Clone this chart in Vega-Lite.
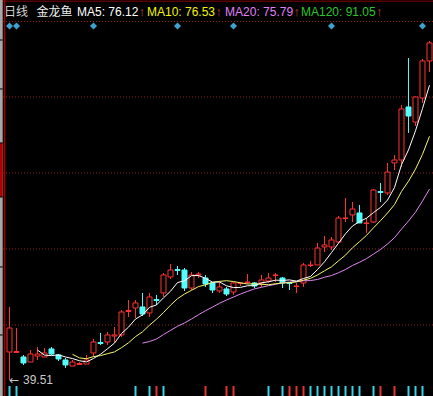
{
  "$schema": "https://vega.github.io/schema/vega-lite/v6.json",
  "width": 433,
  "height": 396,
  "autosize": {"type": "none"},
  "padding": 0,
  "background": "#000000",
  "config": {"view": {"stroke": null}},
  "datasets": {
    "k": [
      {"i":0,"o":43.01,"h":48.64,"l":39.51,"c":46.01},
      {"i":1,"o":42.95,"h":46.01,"l":42.89,"c":43.07},
      {"i":2,"o":42.39,"h":42.64,"l":41.39,"c":41.64},
      {"i":3,"o":41.76,"h":43.26,"l":41.76,"c":42.76},
      {"i":4,"o":42.51,"h":43.64,"l":42.01,"c":42.76,"m5":43.25},
      {"i":5,"o":42.39,"h":43.51,"l":42.39,"c":42.89,"m5":42.62},
      {"i":6,"o":43.39,"h":43.64,"l":42.64,"c":42.76,"m5":42.56},
      {"i":7,"o":42.64,"h":42.76,"l":41.89,"c":42.14,"m5":42.66},
      {"i":8,"o":42.01,"h":42.26,"l":41.01,"c":41.39,"m5":42.39},
      {"i":9,"o":41.26,"h":42.01,"l":41.26,"c":41.76,"m5":42.19,"m10":42.72},
      {"i":10,"o":41.45,"h":41.76,"l":41.39,"c":41.57,"m5":41.92,"m10":42.27},
      {"i":11,"o":41.51,"h":42.64,"l":41.51,"c":42.01,"m5":41.77,"m10":42.17},
      {"i":12,"o":42.89,"h":44.64,"l":42.39,"c":44.26,"m5":42.20,"m10":42.43},
      {"i":13,"o":44.20,"h":45.39,"l":43.89,"c":44.07,"m5":42.73,"m10":42.56},
      {"i":14,"o":44.26,"h":45.51,"l":43.89,"c":45.14,"m5":43.41,"m10":42.80},
      {"i":15,"o":45.01,"h":46.14,"l":44.14,"c":45.14,"m5":44.12,"m10":43.02},
      {"i":16,"o":45.14,"h":48.26,"l":44.89,"c":48.01,"m5":45.32,"m10":43.55},
      {"i":17,"o":48.07,"h":49.51,"l":47.39,"c":48.20,"m5":46.11,"m10":44.16},
      {"i":18,"o":48.51,"h":49.51,"l":47.26,"c":49.14,"m5":47.13,"m10":44.93},
      {"i":19,"o":48.64,"h":50.39,"l":47.51,"c":47.76,"m5":47.65,"m10":45.53,"m20":44.12},
      {"i":20,"o":47.89,"h":50.39,"l":47.39,"c":49.89,"m5":48.60,"m10":46.36,"m20":44.32},
      {"i":21,"o":49.57,"h":50.14,"l":48.89,"c":49.45,"m5":48.89,"m10":47.11,"m20":44.64},
      {"i":22,"o":50.39,"h":52.89,"l":49.89,"c":52.64,"m5":49.78,"m10":47.94,"m20":45.19},
      {"i":23,"o":52.39,"h":54.01,"l":52.14,"c":53.26,"m5":50.60,"m10":48.86,"m20":45.71},
      {"i":24,"o":53.32,"h":53.76,"l":52.64,"c":53.20,"m5":51.69,"m10":49.67,"m20":46.23},
      {"i":25,"o":53.26,"h":53.51,"l":50.64,"c":51.01,"m5":51.91,"m10":50.26,"m20":46.64},
      {"i":26,"o":51.01,"h":53.01,"l":50.76,"c":52.64,"m5":52.55,"m10":50.72,"m20":47.13},
      {"i":27,"o":52.64,"h":53.01,"l":52.26,"c":52.76,"m5":52.57,"m10":51.18,"m20":47.67},
      {"i":28,"o":52.26,"h":52.64,"l":51.14,"c":51.51,"m5":52.22,"m10":51.41,"m20":48.17},
      {"i":29,"o":51.64,"h":51.76,"l":50.39,"c":50.76,"m5":51.74,"m10":51.71,"m20":48.62},
      {"i":30,"o":50.64,"h":51.76,"l":50.39,"c":51.14,"m5":51.76,"m10":51.84,"m20":49.10},
      {"i":31,"o":50.89,"h":51.14,"l":50.01,"c":50.26,"m5":51.29,"m10":51.92,"m20":49.51},
      {"i":32,"o":50.51,"h":51.76,"l":50.14,"c":51.64,"m5":51.06,"m10":51.82,"m20":49.88},
      {"i":33,"o":51.57,"h":51.76,"l":51.26,"c":51.64,"m5":51.09,"m10":51.66,"m20":50.26},
      {"i":34,"o":51.70,"h":52.76,"l":51.51,"c":51.76,"m5":51.29,"m10":51.51,"m20":50.59},
      {"i":35,"o":51.64,"h":51.76,"l":51.01,"c":51.26,"m5":51.31,"m10":51.54,"m20":50.90},
      {"i":36,"o":51.64,"h":52.64,"l":51.14,"c":52.01,"m5":51.66,"m10":51.47,"m20":51.10},
      {"i":37,"o":51.89,"h":52.89,"l":51.64,"c":52.26,"m5":51.79,"m10":51.42,"m20":51.30},
      {"i":38,"o":52.57,"h":52.89,"l":51.76,"c":52.64,"m5":51.99,"m10":51.54,"m20":51.47},
      {"i":39,"o":52.26,"h":52.39,"l":51.01,"c":51.64,"m5":51.96,"m10":51.63,"m20":51.67},
      {"i":40,"o":51.70,"h":51.76,"l":50.76,"c":51.57,"m5":52.02,"m10":51.67,"m20":51.75},
      {"i":41,"o":51.20,"h":51.64,"l":50.39,"c":51.26,"m5":51.87,"m10":51.77,"m20":51.84},
      {"i":42,"o":51.64,"h":54.14,"l":51.14,"c":53.89,"m5":52.20,"m10":51.99,"m20":51.91},
      {"i":43,"o":53.82,"h":54.39,"l":53.64,"c":53.89,"m5":52.45,"m10":52.22,"m20":51.94},
      {"i":44,"o":53.89,"h":56.64,"l":53.89,"c":56.01,"m5":53.32,"m10":52.64,"m20":52.08},
      {"i":45,"o":56.14,"h":57.51,"l":55.51,"c":56.39,"m5":54.29,"m10":53.16,"m20":52.35},
      {"i":46,"o":56.14,"h":57.39,"l":55.76,"c":57.01,"m5":55.44,"m10":53.66,"m20":52.57},
      {"i":47,"o":56.76,"h":60.01,"l":56.64,"c":59.76,"m5":56.61,"m10":54.41,"m20":52.92},
      {"i":48,"o":59.70,"h":62.26,"l":59.26,"c":59.76,"m5":57.79,"m10":55.12,"m20":53.33},
      {"i":49,"o":60.14,"h":61.76,"l":59.26,"c":60.89,"m5":58.76,"m10":56.04,"m20":53.83},
      {"i":50,"o":60.39,"h":61.39,"l":59.14,"c":59.14,"m5":59.31,"m10":56.80,"m20":54.23},
      {"i":51,"o":59.07,"h":59.76,"l":57.89,"c":59.14,"m5":59.74,"m10":57.59,"m20":54.68},
      {"i":52,"o":59.26,"h":63.39,"l":59.14,"c":63.26,"m5":60.44,"m10":58.53,"m20":55.26},
      {"i":53,"o":63.07,"h":64.14,"l":61.76,"c":62.95,"m5":61.08,"m10":59.43,"m20":55.82},
      {"i":54,"o":62.89,"h":66.64,"l":62.64,"c":65.51,"m5":62.00,"m10":60.38,"m20":56.51},
      {"i":55,"o":66.64,"h":67.64,"l":65.76,"c":67.01,"m5":63.57,"m10":61.44,"m20":57.30},
      {"i":56,"o":67.01,"h":73.89,"l":66.14,"c":73.39,"m5":66.42,"m10":63.08,"m20":58.37},
      {"i":57,"o":73.64,"h":79.76,"l":70.39,"c":72.51,"m5":68.27,"m10":64.36,"m20":59.38},
      {"i":58,"o":71.76,"h":74.95,"l":71.26,"c":74.89,"m5":70.66,"m10":65.87,"m20":60.49},
      {"i":59,"o":74.76,"h":79.64,"l":74.14,"c":79.39,"m5":73.44,"m10":67.72,"m20":61.88},
      {"i":60,"o":79.39,"h":81.89,"l":78.01,"c":81.64,"m5":76.36,"m10":69.97,"m20":63.38}
    ],
    "sig": [
      {"i":0,"d":"d"},{"i":1,"d":"d"},{"i":18,"d":"d"},{"i":20,"d":"d"},
      {"i":21,"d":"u"},{"i":22,"d":"d"},{"i":28,"d":"u"},{"i":31,"d":"u"},
      {"i":32,"d":"u"},{"i":37,"d":"d"},{"i":39,"d":"d"},{"i":40,"d":"u"},
      {"i":41,"d":"u"},{"i":42,"d":"u"},{"i":43,"d":"d"},{"i":44,"d":"d"},
      {"i":45,"d":"d"},{"i":46,"d":"d"},{"i":47,"d":"d"},{"i":48,"d":"d"},
      {"i":49,"d":"d"},{"i":50,"d":"d"},{"i":52,"d":"d"},{"i":53,"d":"u"},
      {"i":55,"d":"u"},{"i":57,"d":"d"},{"i":58,"d":"d"},{"i":59,"d":"d"}
    ],
    "dia": [{"i":0},{"i":1},{"i":12},{"i":24},{"i":32},{"i":46},{"i":59}],
    "grid": [{"p":84.32},{"p":74.89},{"p":65.39},{"p":55.89},{"p":46.39}],
    "ticks": [{"p":82.01},{"p":75.89},{"p":69.14},{"p":62.39},{"p":53.64},{"p":45.14}],
    "one": [{"n": 1}],
    "labels": [
      {"t": "日线", "a": -0.786, "k": "name"},
      {"t": "金龙鱼", "a": 3.857, "k": "stock"},
      {"t": "MA5: 76.12", "a": 9.64, "k": "ma5"},
      {"t": "MA10: 76.53", "a": 19.64, "k": "ma10"},
      {"t": "MA20: 75.79", "a": 30.79, "k": "ma20"},
      {"t": "MA120: 91.05", "a": 41.64, "k": "ma120"}
    ],
    "arrows": [{"a": 18.47}, {"a": 29.42}, {"a": 40.56}, {"a": 52.37}]
  },
  "layer": [
    {
      "data": {"name": "grid"},
      "mark": {"type": "rule", "color": "#8c1e1e", "strokeDash": [1, 2], "strokeWidth": 1},
      "encoding": {
        "y": {"field": "p", "type": "quantitative", "scale": {"domain": [37.51, 87.01], "nice": false, "zero": false}, "axis": null}
      }
    },
    {
      "data": {"name": "one"},
      "mark": {"type": "rule", "color": "#5a0000", "strokeWidth": 1.5},
      "encoding": {
        "y": {"datum": 86.85, "type": "quantitative", "scale": {"domain": [37.51, 87.01], "nice": false, "zero": false}, "axis": null}
      }
    },
    {
      "data": {"name": "one"},
      "mark": {"type": "rect", "color": "#a8a8a8"},
      "encoding": {
        "x": {"datum": -1.357, "type": "quantitative", "scale": {"domain": [-1.357, 60.5], "nice": false, "zero": false, "padding": 0}, "axis": null},
        "x2": {"datum": -0.97},
        "y": {"datum": 37.51, "type": "quantitative", "scale": {"domain": [37.51, 87.01], "nice": false, "zero": false}, "axis": null},
        "y2": {"datum": 87.01}
      }
    },
    {
      "data": {"name": "one"},
      "mark": {"type": "rect", "color": "#b00000"},
      "encoding": {
        "x": {"datum": -1.357, "type": "quantitative", "scale": {"domain": [-1.357, 60.5], "nice": false, "zero": false, "padding": 0}, "axis": null},
        "x2": {"datum": -0.97},
        "y": {"datum": 62.39, "type": "quantitative", "scale": {"domain": [37.51, 87.01], "nice": false, "zero": false}, "axis": null},
        "y2": {"datum": 69.14}
      }
    },
    {
      "data": {"name": "ticks"},
      "mark": {"type": "rule", "color": "#000000", "strokeWidth": 1},
      "encoding": {
        "x": {"datum": -1.357, "type": "quantitative", "scale": {"domain": [-1.357, 60.5], "nice": false, "zero": false, "padding": 0}, "axis": null},
        "x2": {"datum": -0.97},
        "y": {"field": "p", "type": "quantitative", "scale": {"domain": [37.51, 87.01], "nice": false, "zero": false}, "axis": null}
      }
    },
    {
      "data": {"name": "one"},
      "mark": {"type": "rule", "color": "#a00000", "strokeWidth": 1.5},
      "encoding": {
        "x": {"datum": -0.714, "type": "quantitative", "scale": {"domain": [-1.357, 60.5], "nice": false, "zero": false, "padding": 0}, "axis": null}
      }
    },
    {
      "data": {"name": "k"},
      "mark": {"type": "rule", "strokeWidth": 1},
      "encoding": {
        "x": {"field": "i", "type": "quantitative", "scale": {"domain": [-1.357, 60.5], "nice": false, "zero": false, "padding": 0}, "axis": null},
        "y": {"field": "l", "type": "quantitative", "scale": {"domain": [37.51, 87.01], "nice": false, "zero": false}, "axis": null},
        "y2": {"field": "h"},
        "stroke": {"condition": {"test": "datum.c >= datum.o", "value": "#ff3232"}, "value": "#54fcfc"}
      }
    },
    {
      "data": {"name": "k"},
      "mark": {"type": "bar", "width": 5, "strokeWidth": 1},
      "encoding": {
        "x": {"field": "i", "type": "quantitative", "scale": {"domain": [-1.357, 60.5], "nice": false, "zero": false, "padding": 0}, "axis": null},
        "y": {"field": "o", "type": "quantitative", "scale": {"domain": [37.51, 87.01], "nice": false, "zero": false}, "axis": null},
        "y2": {"field": "c"},
        "fill": {"condition": {"test": "datum.c >= datum.o", "value": "#000000"}, "value": "#54fcfc"},
        "stroke": {"condition": {"test": "datum.c >= datum.o", "value": "#ff3232"}, "value": "#54fcfc"}
      }
    },
    {
      "data": {"name": "k"},
      "mark": {"type": "line", "color": "#e088f0", "strokeWidth": 1},
      "encoding": {
        "x": {"field": "i", "type": "quantitative", "scale": {"domain": [-1.357, 60.5], "nice": false, "zero": false, "padding": 0}, "axis": null},
        "y": {"field": "m20", "type": "quantitative", "scale": {"domain": [37.51, 87.01], "nice": false, "zero": false}, "axis": null}
      }
    },
    {
      "data": {"name": "k"},
      "mark": {"type": "line", "color": "#f6f66e", "strokeWidth": 1},
      "encoding": {
        "x": {"field": "i", "type": "quantitative", "scale": {"domain": [-1.357, 60.5], "nice": false, "zero": false, "padding": 0}, "axis": null},
        "y": {"field": "m10", "type": "quantitative", "scale": {"domain": [37.51, 87.01], "nice": false, "zero": false}, "axis": null}
      }
    },
    {
      "data": {"name": "k"},
      "mark": {"type": "line", "color": "#ffffff", "strokeWidth": 1},
      "encoding": {
        "x": {"field": "i", "type": "quantitative", "scale": {"domain": [-1.357, 60.5], "nice": false, "zero": false, "padding": 0}, "axis": null},
        "y": {"field": "m5", "type": "quantitative", "scale": {"domain": [37.51, 87.01], "nice": false, "zero": false}, "axis": null}
      }
    },
    {
      "data": {"name": "dia"},
      "mark": {"type": "point", "shape": "diamond", "filled": true, "color": "#3ca2d0", "size": 50, "opacity": 1},
      "encoding": {
        "x": {"field": "i", "type": "quantitative", "scale": {"domain": [-1.357, 60.5], "nice": false, "zero": false, "padding": 0}, "axis": null},
        "y": {"datum": 83.76, "type": "quantitative", "scale": {"domain": [37.51, 87.01], "nice": false, "zero": false}, "axis": null}
      }
    },
    {
      "data": {"name": "sig"},
      "mark": {"type": "rule", "strokeWidth": 2},
      "encoding": {
        "x": {"field": "i", "type": "quantitative", "scale": {"domain": [-1.357, 60.5], "nice": false, "zero": false, "padding": 0}, "axis": null},
        "y": {"datum": 37.51, "type": "quantitative", "scale": {"domain": [37.51, 87.01], "nice": false, "zero": false}, "axis": null},
        "y2": {"datum": 38.76},
        "stroke": {"field": "d", "type": "nominal", "scale": {"domain": ["u", "d"], "range": ["#e83232", "#36d4e6"]}, "legend": null}
      }
    },
    {
      "data": {"name": "one"},
      "mark": {"type": "text", "text": "←", "align": "left", "baseline": "middle", "fontSize": 12, "font": "DejaVu Sans", "color": "#c8c8c8"},
      "encoding": {
        "x": {"datum": -0.05, "type": "quantitative", "scale": {"domain": [-1.357, 60.5], "nice": false, "zero": false, "padding": 0}, "axis": null},
        "y": {"datum": 39.51, "type": "quantitative", "scale": {"domain": [37.51, 87.01], "nice": false, "zero": false}, "axis": null}
      }
    },
    {
      "data": {"name": "one"},
      "mark": {"type": "text", "text": "39.51", "align": "left", "baseline": "middle", "fontSize": 12, "font": "Liberation Sans", "color": "#c8c8c8"},
      "encoding": {
        "x": {"datum": 1.93, "type": "quantitative", "scale": {"domain": [-1.357, 60.5], "nice": false, "zero": false, "padding": 0}, "axis": null},
        "y": {"datum": 39.51, "type": "quantitative", "scale": {"domain": [37.51, 87.01], "nice": false, "zero": false}, "axis": null}
      }
    },
    {
      "data": {"name": "labels"},
      "mark": {"type": "text", "align": "left", "baseline": "middle", "fontSize": 12, "font": "Liberation Sans, Noto Sans CJK SC"},
      "encoding": {
        "x": {"field": "a", "type": "quantitative", "scale": {"domain": [-1.357, 60.5], "nice": false, "zero": false, "padding": 0}, "axis": null},
        "y": {"datum": 85.45, "type": "quantitative", "scale": {"domain": [37.51, 87.01], "nice": false, "zero": false}, "axis": null},
        "text": {"field": "t", "type": "nominal"},
        "color": {"field": "k", "type": "nominal", "scale": {"domain": ["name", "stock", "ma5", "ma10", "ma20", "ma120"], "range": ["#d4d4d4", "#eeeeee", "#ffffff", "#f4f400", "#e080f8", "#2cc42c"]}, "legend": null}
      }
    },
    {
      "data": {"name": "arrows"},
      "mark": {"type": "text", "text": "↑", "align": "left", "baseline": "middle", "fontSize": 13, "font": "Liberation Sans", "color": "#c0402c"},
      "encoding": {
        "x": {"field": "a", "type": "quantitative", "scale": {"domain": [-1.357, 60.5], "nice": false, "zero": false, "padding": 0}, "axis": null},
        "y": {"datum": 85.45, "type": "quantitative", "scale": {"domain": [37.51, 87.01], "nice": false, "zero": false}, "axis": null}
      }
    }
  ]
}
